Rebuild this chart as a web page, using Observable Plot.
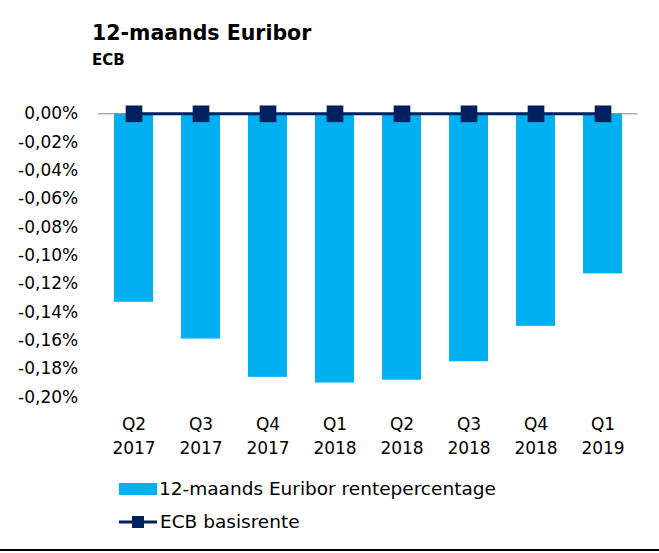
<!DOCTYPE html>
<html>
<head>
<meta charset="utf-8">
<script src="https://cdn.jsdelivr.net/npm/d3@7"></script>
<script src="https://cdn.jsdelivr.net/npm/@observablehq/plot@0.6"></script>
<style>
  html, body { margin: 0; padding: 0; background: #fff; }
  #wrap { position: relative; width: 659px; height: 553px; overflow: hidden; font-family: "DejaVu Sans", sans-serif; }
  #head, #chart, #legend { position: absolute; left: 0; }
  #head { top: 0; }
  #chart { top: 80px; }
  #legend { top: 470px; }
  #bottomline { position: absolute; left: 0; top: 549px; width: 659px; height: 2px; background: #000; }
</style>
</head>
<body>
<div id="wrap">
  <svg id="head" width="659" height="80">
    <text x="92" y="40" font-family="DejaVu Sans" font-weight="bold" font-size="20.5" fill="#000">12-maands Euribor</text>
    <text x="92" y="65" font-family="DejaVu Sans" font-weight="bold" font-size="15" fill="#000">ECB</text>
  </svg>
  <div id="chart"></div>
  <svg id="legend" width="659" height="75">
    <rect x="119" y="13" width="38" height="12" fill="#00B0F0"></rect>
    <text x="159" y="25" font-family="DejaVu Sans" font-size="18.5" fill="#000">12-maands Euribor rentepercentage</text>
    <line x1="119" x2="157" y1="52" y2="52" stroke="#002060" stroke-width="3"></line>
    <rect x="132" y="46" width="12" height="12" fill="#002060"></rect>
    <text x="160" y="58" font-family="DejaVu Sans" font-size="18.5" fill="#000">ECB basisrente</text>
  </svg>
  <div id="bottomline"></div>
</div>
<script>
const quarters = ["Q2 2017", "Q3 2017", "Q4 2017", "Q1 2018", "Q2 2018", "Q3 2018", "Q4 2018", "Q1 2019"];
const euribor = [-0.133, -0.159, -0.186, -0.190, -0.188, -0.175, -0.150, -0.113];
const ecbRate = [0, 0, 0, 0, 0, 0, 0, 0];
const yTicks = [0, -0.02, -0.04, -0.06, -0.08, -0.10, -0.12, -0.14, -0.16, -0.18, -0.20];

const data = quarters.map((q, i) => ({ q, euribor: euribor[i], ecb: ecbRate[i] }));
const fmt = d => (Math.abs(d) < 1e-9 ? "0,00" : d.toFixed(2).replace(".", ",")) + "%";

const chart = Plot.plot({
  width: 659,
  height: 380,
  marginTop: 33.3,
  marginBottom: 63.3,
  marginLeft: 97.75,
  marginRight: 21.25,
  style: { fontFamily: "DejaVu Sans", fontSize: "17px", color: "#000", background: "transparent" },
  x: { domain: quarters, paddingInner: 0.42, paddingOuter: 0.21, axis: null },
  y: { domain: [-0.20, 0], ticks: yTicks, tickFormat: fmt, tickSize: 0, tickPadding: 20, label: null },
  marks: [
    Plot.barY(data, { x: "q", y: "euribor", fill: "#00B0F0" }),
    Plot.ruleY([0], { stroke: "#888", strokeWidth: 1 }),
    Plot.line(data, { x: "q", y: "ecb", stroke: "#002060", strokeWidth: 3 }),
    Plot.dot(data, { x: "q", y: "ecb", symbol: "square", r: 9.4, fill: "#002060", stroke: "none" }),
    Plot.text(data, { x: "q", text: d => d.q.replace(" ", "\n"), frameAnchor: "bottom", lineAnchor: "top", dy: 16, lineHeight: 1.4, fontSize: 17, fill: "#000" })
  ]
});
document.getElementById("chart").appendChild(chart);
</script>
</body>
</html>
